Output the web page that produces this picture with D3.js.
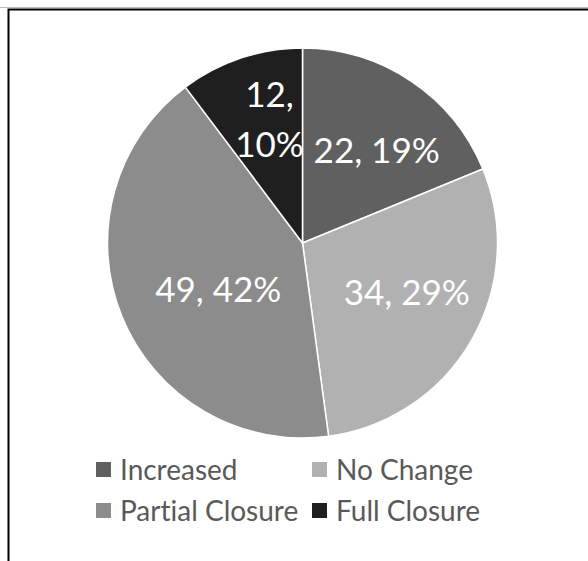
<!DOCTYPE html>
<html>
<head>
<meta charset="utf-8">
<script src="https://cdn.jsdelivr.net/npm/d3@7"></script>
<style>
  html, body { margin: 0; padding: 0; background: #fff; }
  svg { display: block; }
  text { font-variant-ligatures: none; }
</style>
</head>
<body>
<div id="chart"></div>
<script>
// Weekly service status, by category
const categories = ["Increased", "No Change", "Partial Closure", "Full Closure"];
const counts = [22, 34, 49, 12];
const percents = [19, 29, 42, 10];
const sliceColors = ["#606060", "#b1b1b1", "#8c8c8c", "#1f1f1f"];

const width = 588, height = 561;
const cx = 302.5, cy = 243, radius = 195;
// value labels sit at 0.6 of the radius on each slice's mid-angle, then get a small pixel nudge
const labelNudge = [[9, 5], [3, -9], [24, 2], [4, -12]];

const svg = d3.select("#chart").append("svg")
  .attr("width", width).attr("height", height);

// frame
svg.append("line").attr("x1", 0).attr("x2", width).attr("y1", 7.5).attr("y2", 7.5)
  .attr("stroke", "#b8b8b8").attr("stroke-width", 1);
svg.append("path")
  .attr("d", `M8.5,${height} V9.5 H${width}`)
  .attr("fill", "none").attr("stroke", "#000").attr("stroke-width", 2);

const rows = categories.map((c, i) => ({ category: c, count: counts[i], pct: percents[i], color: sliceColors[i] }));

const pie = d3.pie().sort(null).value(d => d.count);
const arcs = pie(rows);
const arc = d3.arc().innerRadius(0).outerRadius(radius);
const labelArc = d3.arc().innerRadius(radius * 0.6).outerRadius(radius * 0.6);

const g = svg.append("g").attr("transform", `translate(${cx},${cy})`);

g.selectAll("path.slice").data(arcs).join("path")
  .attr("class", "slice")
  .attr("d", arc)
  .attr("fill", d => d.data.color)
  .attr("stroke", "#ffffff")
  .attr("stroke-width", 1.5)
  .attr("stroke-linejoin", "round");

// value labels
const labelFont = "Lato, 'Open Sans', 'DejaVu Sans', sans-serif";
arcs.forEach((a, i) => {
  const [px, py] = labelArc.centroid(a);
  const x = px + labelNudge[i][0];
  const y = py + labelNudge[i][1];
  const t = g.append("text")
    .attr("x", x).attr("y", y)
    .attr("text-anchor", "middle")
    .attr("fill", "#ffffff")
    .attr("font-family", labelFont)
    .attr("font-size", 35);
  if (a.data.category === "Full Closure") {
    // narrow slice: value and share on two lines
    t.append("tspan").attr("x", x).attr("dy", "-0.36em").text(`${a.data.count},`);
    t.append("tspan").attr("x", x).attr("dy", "1.43em").text(`${a.data.pct}%`);
  } else {
    t.attr("dy", "0.36em").text(`${a.data.count}, ${a.data.pct}%`);
  }
});

// legend, two columns
const legendX = [96, 312];
const legendBase = [480, 521];
const legend = svg.append("g");
rows.forEach((d, i) => {
  const col = i % 2, row = Math.floor(i / 2);
  const lx = legendX[col], ly = legendBase[row];
  legend.append("rect")
    .attr("x", lx).attr("y", ly - 18)
    .attr("width", 15).attr("height", 15)
    .attr("fill", d.color);
  legend.append("text")
    .attr("x", lx + 24).attr("y", ly)
    .attr("fill", "#595959")
    .attr("font-family", labelFont)
    .attr("font-size", 28)
    .text(d.category);
});
</script>
</body>
</html>
